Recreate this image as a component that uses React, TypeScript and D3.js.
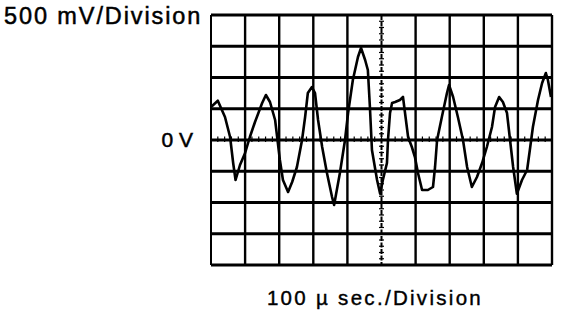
import React from "react";
import * as d3 from "d3";

// time in microseconds, voltage in mV
const timeUs = [0, 20, 41, 56, 65, 72, 85, 100, 114, 129, 150, 161, 173, 188, 194, 202, 211, 226, 238, 252, 267, 276, 284, 296, 305, 314, 326, 340, 355, 361, 378, 393, 402, 416, 431, 440, 452, 460, 466, 472, 487, 496, 504, 516, 519, 525, 531, 540, 554, 563, 569, 578, 589, 598, 607, 619, 636, 651, 657, 663, 677, 692, 698, 710, 724, 739, 751, 765, 780, 795, 809, 824, 833, 845, 856, 868, 877, 886, 897, 912, 927, 935, 944, 959, 971, 982, 988, 997];
const voltMv = [528, 629, 368, 48, -368, -640, -400, -208, 48, 288, 592, 720, 608, 320, 48, -320, -640, -832, -672, -432, 0, 368, 752, 848, 752, 320, -112, -528, -912, -1040, -528, 0, 432, 960, 1328, 1472, 1280, 1120, 528, -160, -640, -860, -640, -368, 0, 432, 592, 608, 640, 688, 432, 48, -112, -272, -528, -800, -800, -752, -432, 0, 368, 752, 880, 688, 368, 0, -432, -752, -592, -368, -112, 208, 528, 688, 608, 432, 0, -432, -860, -640, -480, -160, 208, 640, 912, 1072, 960, 688];

const timeTicks = d3.range(0, 1001, 100);
const voltTicks = d3.range(-2000, 2001, 500);
const minorTime = d3.range(0, 1001, 20);
const minorVolt = d3.range(-2000, 2001, 100);

const labelY = "500 mV/Division";
const labelZero = "0 V";
const labelX = "100 \u00b5 sec./Division";

export default function App() {
  const W = 576, H = 318;
  const x = d3.scaleLinear().domain([0, 1000]).range([211, 552]);
  const y = d3.scaleLinear().domain([-2000, 2000]).range([265, 15]);
  const line = d3.line<number>().x((_, i) => x(timeUs[i])).y((d) => y(d));
  const font = "'Liberation Sans', Arial, sans-serif";
  return (
    <svg width={W} height={H} style={{ position: "absolute", left: 0, top: 0, background: "#fff" }}>
      <rect x={0} y={0} width={W} height={H} fill="#fff" />
      {/* grid verticals */}
      {timeTicks.map((t) =>
        t === 500 ? null : (
          <line key={"v" + t} x1={x(t)} x2={x(t)} y1={y(2000)} y2={y(-2000)} stroke="#000" strokeWidth={t === 0 ? 2 : 2.4} />
        )
      )}
      {/* grid horizontals */}
      {voltTicks.map((v) => (
        <line key={"h" + v} x1={x(0)} x2={x(1000)} y1={y(v)} y2={y(v)} stroke="#000" strokeWidth={2.8} />
      ))}
      {/* center vertical dotted axis */}
      <line x1={x(500)} x2={x(500)} y1={y(2000)} y2={y(-2000)} stroke="#000" strokeWidth={2} strokeDasharray="5,1.5" />
      {minorVolt.map((v) => (
        <line key={"mv" + v} x1={x(500) - 2.5} x2={x(500) + 2.5} y1={y(v)} y2={y(v)} stroke="#000" strokeWidth={1.2} />
      ))}
      {/* center horizontal minor ticks */}
      {minorTime.map((t) => (
        <line key={"mt" + t} x1={x(t)} x2={x(t)} y1={y(0) - 3.5} y2={y(0) + 2} stroke="#000" strokeWidth={1.2} />
      ))}
      {/* trace */}
      <path d={line(voltMv) || ""} fill="none" stroke="#000" strokeWidth={2.6} strokeLinejoin="round" />
      {/* labels */}
      <text x={4} y={24} fontFamily={font} fontSize={23.5} letterSpacing={1.9} stroke="#000" strokeWidth={0.5} fill="#000">{labelY}</text>
      <text x={193} y={147} textAnchor="end" fontFamily={font} fontSize={21} stroke="#000" strokeWidth={0.5} fill="#000">{labelZero}</text>
      <text x={375} y={305} textAnchor="middle" fontFamily={font} fontSize={20.5} letterSpacing={2.3} stroke="#000" strokeWidth={0.4} fill="#000">{labelX}</text>
    </svg>
  );
}
